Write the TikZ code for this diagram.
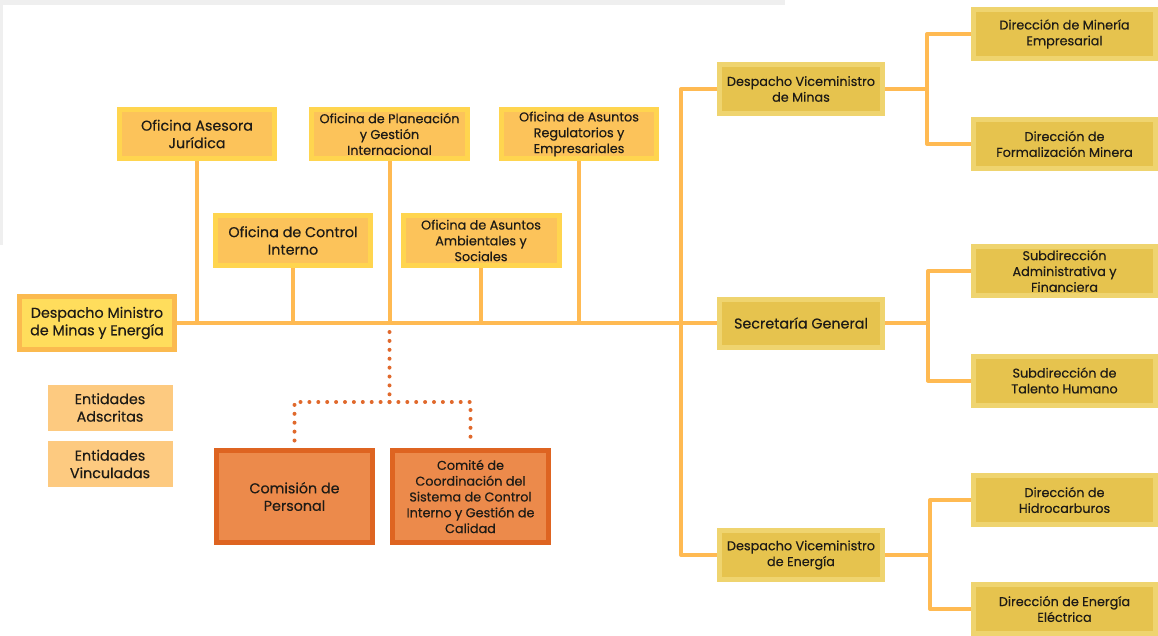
\documentclass[tikz,border=0pt]{standalone}
\usepackage{fontspec}
\setmainfont{Poppins}[BoldFont={Poppins},BoldFeatures={FakeBold=0.35}]
\usetikzlibrary{calc}
\definecolor{txtC}{HTML}{1E1B16}
\definecolor{ofiOut}{HTML}{FFD54F}
\definecolor{ofiIn}{HTML}{FCC35A}
\definecolor{secOut}{HTML}{EFD46F}
\definecolor{secIn}{HTML}{E6C34E}
\definecolor{minOut}{HTML}{FBBA4F}
\definecolor{minIn}{HTML}{FFDD5C}
\definecolor{comOut}{HTML}{DE6421}
\definecolor{comIn}{HTML}{EC8A4B}
\definecolor{entC}{HTML}{FDCA80}
\definecolor{lineC}{HTML}{FFBA52}
\definecolor{dotC}{HTML}{E0692C}
\definecolor{grayC}{HTML}{EFEFEF}
\begin{document}
\begin{tikzpicture}[x=1pt,y=-1pt,
  box/.style={draw, line width=5pt, align=center, inner sep=0pt, text=txtC,
    font=\fontsize{12.8}{15.8}\selectfont\bfseries},
  big/.style={font=\fontsize{14.3}{17.5}\selectfont\bfseries},
  wh/.style n args={2}{minimum width=#1pt-5pt, minimum height=#2pt-5pt},
  ofibox/.style={box, draw=ofiOut, fill=ofiIn},
  secbox/.style={box, draw=secOut, fill=secIn},
  minbox/.style={box, draw=minOut, fill=minIn},
  combox/.style={box, draw=comOut, fill=comIn},
  entbox/.style={box, draw=entC, fill=entC, line width=1pt, minimum width=124pt, minimum height=45pt},
  conn/.style={draw=lineC, line width=4pt, line join=round},
  dots/.style={draw=dotC, line width=4pt, line cap=round, dash pattern=on 0pt off 8.9pt}
]
\useasboundingbox (0,0) rectangle (1158,635);
\fill[grayC] (0,0) rectangle (785,5);
\fill[grayC] (0,0) rectangle (3,245);

% left / center
\node[minbox, big, wh={160}{58}] (ministro) at (97,323) {Despacho Ministro\\de Minas y Energía};
\node[ofibox, big, wh={160}{54}] (juridica) at (197,134) {Oficina Asesora\\Jurídica};
\node[ofibox, big, wh={160}{55}] (control) at (293,240.5) {Oficina de Control\\Interno};
\node[ofibox, wh={161}{54}] (planeacion) at (389.5,134) {Oficina de Planeación\\y Gestión\\Internacional};
\node[ofibox, wh={161}{55}] (ambientales) at (481,240.5) {Oficina de Asuntos\\Ambientales y\\Sociales};
\node[ofibox, wh={160}{54}] (regulatorios) at (579,134) {Oficina de Asuntos\\Regulatorios y\\Empresariales};

\node[entbox, big] (adscritas) at (110,407.5) {Entidades\\Adscritas};
\node[entbox, big] (vinculadas) at (110,464) {Entidades\\Vinculadas};

\node[combox, big, wh={161}{97}] (comision) at (294.5,496.5) {Comisión de\\Personal};
\node[combox, wh={161}{97}] (comite) at (470.5,496.5) {Comité de\\Coordinación del\\Sistema de Control\\Interno y Gestión de\\Calidad};

% right column
\node[secbox, wh={168}{54}] (minas) at (801,89) {Despacho Viceministro\\de Minas};
\node[secbox, big, wh={168}{53}] (secretaria) at (801,323) {Secretaría General};
\node[secbox, wh={168}{54}] (energia) at (801,555) {Despacho Viceministro\\de Energía};

\node[secbox, wh={187}{54}] (mineria) at (1064.5,34) {Dirección de Minería\\Empresarial};
\node[secbox, wh={187}{54}] (formal) at (1064.5,144) {Dirección de\\Formalización Minera};
\node[secbox, wh={187}{54}] (admin) at (1064.5,271) {Subdirección\\Administrativa y\\Financiera};
\node[secbox, wh={187}{54}] (talento) at (1064.5,380.5) {Subdirección de\\Talento Humano};
\node[secbox, wh={187}{54}] (hidro) at (1064.5,500) {Dirección de\\Hidrocarburos};
\node[secbox, wh={187}{54}] (electrica) at (1064.5,609) {Dirección de Energía\\Eléctrica};

% connectors
\draw[conn] (ministro.east) -- (secretaria.west);
\foreach \n in {juridica,control,planeacion,ambientales,regulatorios}
  \draw[conn] (\n.south) -- (\n.south |- ministro.east);
\draw[conn] (minas.west) -- ++(-36,0) coordinate (vtop) -- (vtop |- energia.west) -- (energia.west);

\draw[conn] (minas.east) -- ++(42,0) coordinate (bm);
\draw[conn] (mineria.west) -| (bm) |- (formal.west);
\draw[conn] (secretaria.east) -- ++(43,0) coordinate (bs);
\draw[conn] (admin.west) -| (bs) |- (talento.west);
\draw[conn] (energia.east) -- ++(45,0) coordinate (be);
\draw[conn] (hidro.west) -| (be) |- (electrica.west);

% dotted link
\coordinate (dtop) at ($(planeacion.south |- ministro.east)+(0,9)$);
\coordinate (split) at ($(planeacion.south |- ministro.east)+(0,79)$);
\draw[dots] (dtop) -- (split);
\draw[dots] (split) -| ($(comision.north)+(0,-3)$);
\draw[dots] (split) -| ($(comite.north)+(0,-3)$);
\end{tikzpicture}
\end{document}
